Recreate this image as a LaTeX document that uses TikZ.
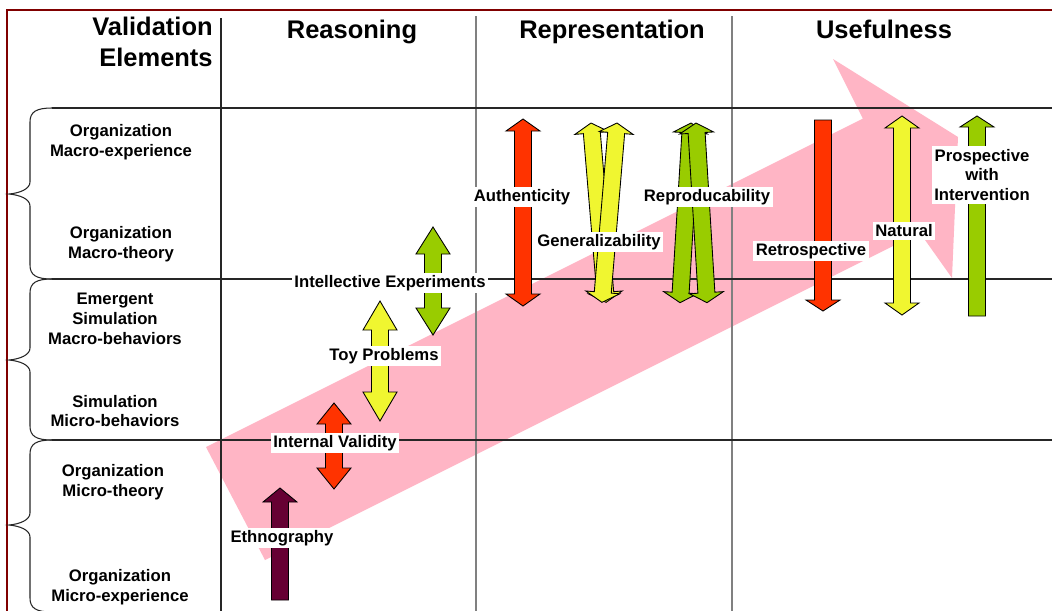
\documentclass[tikz,border=0pt]{standalone}
\usepackage{fontspec}
\setmainfont{Liberation Sans}
\usetikzlibrary{positioning}

\definecolor{framered}{RGB}{128,0,0}
\definecolor{bandpink}{RGB}{255,181,197}
\definecolor{redarrow}{RGB}{255,51,0}
\definecolor{yellowarrow}{RGB}{240,246,48}
\definecolor{greenarrow}{RGB}{153,204,0}
\definecolor{maroonarrow}{RGB}{102,0,51}

\tikzset{
	gridline/.style = {line width=0.6pt, black!85},
	greyline/.style = {line width=0.6pt, black!50},
	blockarrow/.style = {draw=black, line width=0.5pt, line join=miter},
	colhead/.style = {font=\fontsize{14.5}{17.6}\selectfont\bfseries, inner sep=0pt, align=center},
	rowlab/.style = {font=\fontsize{9.5}{11.3}\selectfont\bfseries, inner sep=0pt, align=center},
	tag/.style = {font=\fontsize{9.5}{11.3}\selectfont\bfseries, fill=white, inner sep=1.5pt, align=center}
}

% block arrow with two heads: colour, top tip x, top tip y, angle, length, head length
\newcommand{\twoheads}[6]{
	\begin{scope}[shift={(#2,#3)}, rotate=#4]
		\draw [blockarrow, fill=#1] (0,0) -- (17,#6) -- (8.5,#6) -- (8.5,#5-#6) -- (17,#5-#6) -- (0,#5) --
			(-17,#5-#6) -- (-8.5,#5-#6) -- (-8.5,#6) -- (-17,#6) -- cycle;
	\end{scope}
}

% block arrow with one head: colour, tip x, tip y, angle, length, head length
\newcommand{\onehead}[6]{
	\begin{scope}[shift={(#2,#3)}, rotate=#4]
		\draw [blockarrow, fill=#1] (0,0) -- (17,#6) -- (8.5,#6) -- (8.5,#5) -- (-8.5,#5) --
			(-8.5,#6) -- (-17,#6) -- cycle;
	\end{scope}
}

% left curly bracket: top, tip, bottom
\newcommand{\rowbrace}[3]{
	\draw [gridline] (52,#1) .. controls (36,#1) and (30,#1+4) .. (30,#1+14) -- (30,#2-12)
		.. controls (30,#2-5) and (20,#2-1) .. (9,#2)
		.. controls (20,#2+1) and (30,#2+5) .. (30,#2+12) -- (30,#3-14)
		.. controls (30,#3-4) and (36,#3) .. (52,#3);
}

\begin{document}
\begin{tikzpicture}[x=0.02cm, y=-0.02cm]

	\clip (0,0) rectangle (1052,610);
	\fill [white] (0,0) rectangle (1052,610);

	% the big pink arrow behind the grid
	\fill [bandpink] (206,447) -- (862.8,118.6) -- (833,59) -- (958,137) -- (952,278) -- (919.8,232.6) -- (265,560) -- cycle;

	% frame
	\draw [framered, line width=1.5pt] (7,620) -- (7,10) -- (1060,10);

	% grid
	\draw [gridline] (221,18) -- (221,620);
	\draw [greyline] (476,16) -- (476,620);
	\draw [greyline] (732,16) -- (732,620);
	\foreach \y in {108,279,440} \draw [gridline] (52,\y) -- (1060,\y);

	\rowbrace{108}{194}{279}
	\rowbrace{279}{360}{440}
	\rowbrace{440}{525}{612}

	% column headings
	\node [colhead, anchor=east, align=right] (valid) at (213,42) {Validation\\Elements};
	\node [colhead, anchor=base] (reason) at (352,38.5) {Reasoning};
	\node [colhead, anchor=base] (repres) at (612,38.5) {Representation};
	\node [colhead, anchor=base] (useful) at (884,38.5) {Usefulness};

	% row labels
	\node [rowlab] (macroexp) at (121,142) {Organization\\Macro-experience};
	\node [rowlab] (macrotheo) at (121,244) {Organization\\Macro-theory};
	\node [rowlab] (emergent) at (115,319) {Emergent\\Simulation\\Macro-behaviors};
	\node [rowlab] (microbeh) at (115,411) {Simulation\\Micro-behaviors};
	\node [rowlab] (microtheo) at (113,482) {Organization\\Micro-theory};
	\node [rowlab] (microexp) at (120,587) {Organization\\Micro-experience};

	% reasoning
	\onehead{maroonarrow}{280}{488}{0}{112}{14}
	\twoheads{redarrow}{334}{403}{0}{86}{21}
	\twoheads{yellowarrow}{380}{301}{0}{120}{29}
	\twoheads{greenarrow}{433}{227}{0}{108}{27}

	% representation
	\twoheads{redarrow}{523}{119}{0}{187}{12}
	\twoheads{yellowarrow}{591}{123}{4.8}{180}{10}
	\twoheads{yellowarrow}{617}{123}{-4.8}{180}{10}
	\twoheads{greenarrow}{691}{123}{-3.5}{180}{10}
	\twoheads{greenarrow}{696}{123}{3.5}{180}{10}

	% usefulness
	\onehead{redarrow}{823}{311}{180}{191}{11}
	\twoheads{yellowarrow}{902}{116}{0}{199}{12}
	\onehead{greenarrow}{977}{116}{0}{200}{11}

	% arrow labels
	\node [tag] (ethno) at (282,538) {Ethnography};
	\node [tag] (internal) at (335,443) {Internal Validity};
	\node [tag] (toy) at (384,356) {Toy Problems};
	\node [tag] (intellect) at (390,283) {Intellective Experiments};
	\node [tag] (authent) at (522,197) {Authenticity};
	\node [tag] (general) at (599,242) {Generalizability};
	\node [tag] (reprod) at (707,197) {Reproducability};
	\node [tag] (retro) at (811,251) {Retrospective};
	\node [tag] (natural) at (904,231) {Natural};
	\node [tag] (prosp) at (982,175) {Prospective\\with\\Intervention};

\end{tikzpicture}
\end{document}
